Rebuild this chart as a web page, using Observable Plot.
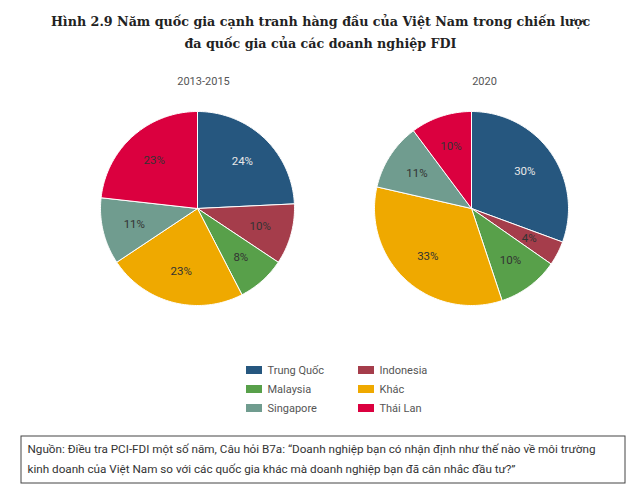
<!DOCTYPE html>
<html>
<head>
<meta charset="utf-8">
<script src="https://cdn.jsdelivr.net/npm/d3@7"></script>
<script src="https://cdn.jsdelivr.net/npm/@observablehq/plot@0.6"></script>
<style>
  html, body { margin: 0; padding: 0; background: #fff; }
  #chart svg { display: block; }
</style>
</head>
<body>
<div id="chart"></div>
<script>
// ---- data ----
const categories = ["Trung Quốc", "Indonesia", "Malaysia", "Khác", "Singapore", "Thái Lan"];
const colors = ["#26577F", "#A53D4B", "#58A04A", "#EFA900", "#709C8F", "#DB003F"];
const years = ["2013-2015", "2020"];
const values2013 = [24, 10, 8, 23, 11, 23];
const values2020 = [30, 4, 10, 33, 11, 10];
const titleLines = [
  "Hình 2.9 Năm quốc gia cạnh tranh hàng đầu của Việt Nam trong chiến lược",
  "đa quốc gia của các doanh nghiệp FDI"
];
const footerLines = [
  "Nguồn: Điều tra PCI-FDI một số năm, Câu hỏi B7a: “Doanh nghiệp bạn có nhận định như thế nào về môi trường",
  "kinh doanh của Việt Nam so với các quốc gia khác mà doanh nghiệp bạn đã cân nhắc đầu tư?”"
];

// ---- layout ----
const W = 640, H = 498;
const R = 97, LR = 65;
const pies = [
  {year: years[0], values: values2013, cx: 197, cy: 208, tx: 203},
  {year: years[1], values: values2020, cx: 471, cy: 208, tx: 484}
];

const slicePts = [];
const labels = [];
for (const p of pies) {
  const arcs = d3.pie().sort(null)(p.values);
  arcs.forEach((a, i) => {
    const key = p.year + "-" + i;
    const cat = categories[i];
    slicePts.push({key, cat, x: p.cx, y: p.cy});
    const n = Math.max(2, Math.ceil((a.endAngle - a.startAngle) / (Math.PI / 180)));
    for (let k = 0; k <= n; k++) {
      const t = a.startAngle + (a.endAngle - a.startAngle) * k / n;
      slicePts.push({key, cat, x: p.cx + R * Math.sin(t), y: p.cy - R * Math.cos(t)});
    }
    slicePts.push({key, cat, x: p.cx, y: p.cy});
    const m = (a.startAngle + a.endAngle) / 2;
    labels.push({
      text: a.data + "%", cat,
      x: p.cx + LR * Math.sin(m), y: p.cy - LR * Math.cos(m)
    });
  });
}

const legendCols = [246, 358], legendRows = [370, 389, 408];
const legend = categories.map((c, i) => ({
  cat: c, x: legendCols[i % 2], y: legendRows[Math.floor(i / 2)]
}));

const chart = Plot.plot({
  width: W, height: H,
  margin: 0,
  style: {background: "#fff", fontFamily: "Roboto, sans-serif"},
  x: {domain: [0, W], range: [0, W], axis: null},
  y: {domain: [0, H], range: [0, H], axis: null},
  color: {domain: categories, range: colors},
  marks: [
    Plot.text(titleLines, {
      x: W / 2, y: (d, i) => 21 + i * 22, text: d => d,
      fontFamily: "DejaVu Serif", fontWeight: "bold", fontSize: 12.7, fill: "#222"
    }),
    Plot.text(pies, {
      x: "tx", y: 81, text: "year", fontSize: 11, fill: "#555"
    }),
    Plot.line(slicePts, {
      x: "x", y: "y", z: "key", fill: "cat", stroke: "#fff", strokeWidth: 1, curve: "linear"
    }),
    Plot.text(labels, {
      x: "x", y: "y", text: "text", fontSize: 11.5,
      fill: d => d.cat === "Trung Quốc" ? "#e8e8e8" : "#333"
    }),
    Plot.rect(legend, {
      x1: "x", x2: d => d.x + 16, y1: d => d.y - 4, y2: d => d.y + 4, fill: "cat"
    }),
    Plot.text(legend, {
      x: d => d.x + 21, y: "y", text: "cat", textAnchor: "start", fontSize: 11, fill: "#555"
    }),
    Plot.rect([0], {x1: 21, x2: 625, y1: 436, y2: 483, stroke: "#444", fill: "none"}),
    Plot.text(footerLines, {
      x: 27, y: (d, i) => 449 + i * 20, text: d => d, textAnchor: "start",
      fontSize: 11.7, fill: "#333"
    })
  ]
});
document.getElementById("chart").appendChild(chart);
</script>
</body>
</html>
